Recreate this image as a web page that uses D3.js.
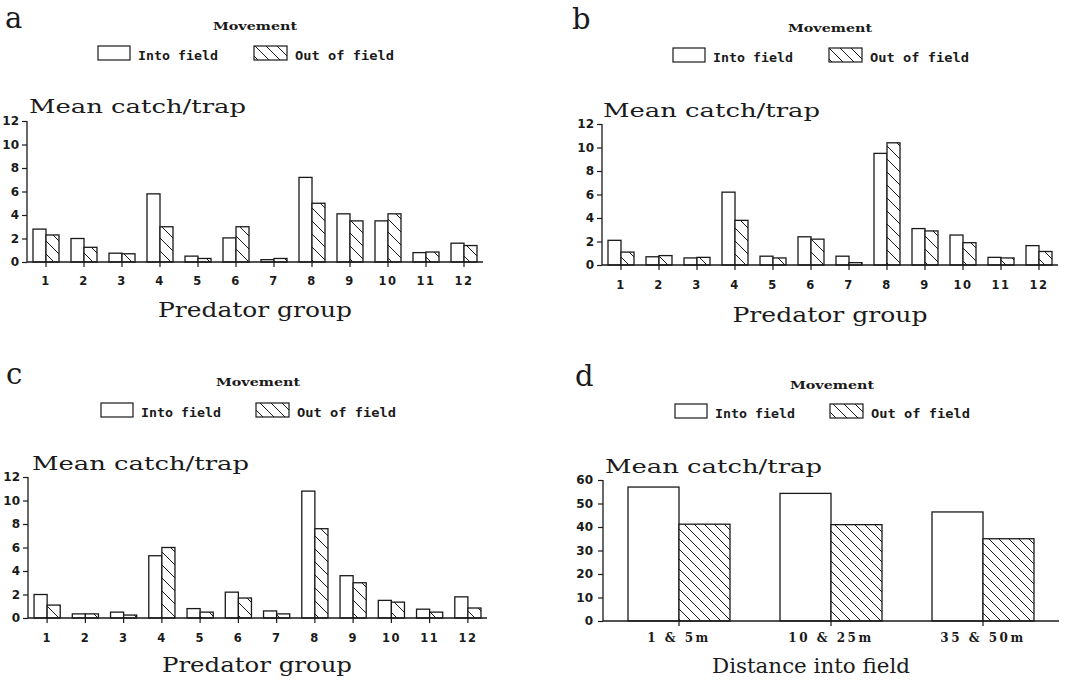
<!DOCTYPE html>
<html><head><meta charset="utf-8">
<script src="https://cdn.jsdelivr.net/npm/d3@7"></script>
<style>
body{margin:0;background:#fff;}
svg{display:block;}
</style></head>
<body><svg id="c" width="1068" height="682"></svg>
<script>
// ---- data ----
const groups = ["1","2","3","4","5","6","7","8","9","10","11","12"];
const intoA = [2.8,2.0,0.75,5.8,0.5,2.05,0.2,7.2,4.1,3.5,0.8,1.6];
const outA  = [2.3,1.25,0.7,3.0,0.3,3.0,0.3,5.0,3.5,4.1,0.85,1.4];
const intoB = [2.1,0.7,0.6,6.2,0.75,2.4,0.75,9.5,3.1,2.55,0.65,1.65];
const outB  = [1.1,0.8,0.65,3.8,0.6,2.2,0.2,10.4,2.9,1.9,0.6,1.15];
const intoC = [2.0,0.35,0.5,5.3,0.8,2.2,0.6,10.8,3.6,1.5,0.75,1.8];
const outC  = [1.1,0.35,0.25,6.0,0.5,1.7,0.35,7.6,3.0,1.35,0.5,0.85];
const distances = ["1 & 5m","10 & 25m","35 & 50m"];
const intoD = [57,54.3,46.4];
const outD  = [41.2,41,35];
const yTicksGroup = [0,2,4,6,8,10,12];
const yTicksDist = [0,10,20,30,40,50,60];
const seriesNames = ["Into field","Out of field"];

const svg = d3.select("#c");
const INK = "#1a1a1a";
const defs = svg.append("defs");
function hatch(id, s){
  const p = defs.append("pattern").attr("id",id).attr("patternUnits","userSpaceOnUse")
    .attr("width",s).attr("height",s);
  p.append("rect").attr("width",s).attr("height",s).attr("fill","#fff");
  p.append("path").attr("d",`M0,0L${s},${s}M-2,${s-2}L2,${s+2}M${s-2},-2L${s+2},2`)
    .attr("stroke",INK).attr("stroke-width",1);
}
hatch("h13",13); hatch("h10",10); hatch("h11",11);

function panel(cfg){
  const g = svg.append("g");
  // panel letter
  g.append("text").attr("x",cfg.letterX).attr("y",cfg.letterY).text(cfg.letter)
    .style("font-family","'DejaVu Serif',serif").style("font-size","29px").attr("fill",INK);
  // legend
  const L = cfg.legend;
  g.append("text").attr("x",L.mx).attr("y",L.my).attr("text-anchor","middle").text("Movement")
    .style("font-family","'DejaVu Serif',serif").style("font-weight","bold").style("font-size","11px")
    .attr("textLength",84).attr("lengthAdjust","spacingAndGlyphs").attr("fill",INK);
  g.append("rect").attr("x",L.x1).attr("y",L.by).attr("width",32).attr("height",14)
    .attr("fill","#fff").attr("stroke",INK).attr("stroke-width",1.2);
  g.append("text").attr("x",L.x1+40).attr("y",L.by+14).text(seriesNames[0])
    .style("font-family","'DejaVu Sans Mono',monospace").style("font-weight","bold").style("font-size","13px")
    .attr("textLength",80).attr("lengthAdjust","spacingAndGlyphs").attr("fill",INK);
  g.append("rect").attr("x",L.x2).attr("y",L.by).attr("width",33).attr("height",14)
    .attr("fill","url(#h11)").attr("stroke",INK).attr("stroke-width",1.2);
  g.append("text").attr("x",L.x2+41).attr("y",L.by+14).text(seriesNames[1])
    .style("font-family","'DejaVu Sans Mono',monospace").style("font-weight","bold").style("font-size","13px")
    .attr("textLength",99).attr("lengthAdjust","spacingAndGlyphs").attr("fill",INK);

  // scales
  const y = d3.scaleLinear().domain([0,cfg.ymax]).range([cfg.y0,cfg.yTop]);
  const x = d3.scaleBand().domain(cfg.cats).range([cfg.xr0,cfg.xr1])
    .paddingInner(cfg.pad).paddingOuter(cfg.pad/2);
  const bw = x.bandwidth()/2;

  // title
  g.append("text").attr("x",cfg.tx).attr("y",cfg.ty).text("Mean catch/trap")
    .style("font-family","'DejaVu Serif',serif").style("font-size","19px")
    .attr("textLength",217).attr("lengthAdjust","spacingAndGlyphs").attr("fill",INK);

  // bars
  const rows = cfg.cats.map((c,i)=>({c, a:cfg.into[i], b:cfg.out[i]}));
  g.selectAll(".bi").data(rows).join("rect")
    .attr("x",d=>x(d.c)).attr("width",bw)
    .attr("y",d=>y(d.a)).attr("height",d=>y(0)-y(d.a))
    .attr("fill","#fff").attr("stroke",INK).attr("stroke-width",1.3);
  g.selectAll(".bo").data(rows).join("rect")
    .attr("x",d=>x(d.c)+bw).attr("width",bw)
    .attr("y",d=>y(d.b)).attr("height",d=>y(0)-y(d.b))
    .attr("fill",`url(#${cfg.hatch})`).attr("stroke",INK).attr("stroke-width",1.3);

  // axes
  const ya = d3.axisLeft(y).tickValues(cfg.yticks).tickSize(5).tickPadding(cfg.ypad).tickFormat(d3.format("d"));
  const yg = g.append("g").attr("transform",`translate(${cfg.xr0},0)`).call(ya);
  yg.select(".domain").attr("stroke",INK).attr("stroke-width",1.3).attr("d",`M0,${cfg.y0}V${cfg.yTop}`);
  yg.selectAll(".tick line").attr("stroke",INK).attr("stroke-width",1.2);
  yg.selectAll(".tick text").attr("fill",INK)
    .style("font-family","'DejaVu Sans',sans-serif").style("font-weight","bold").style("font-size","12px");

  const xa = d3.axisBottom(x).tickSize(5).tickPadding(cfg.xpad);
  const xg = g.append("g").attr("transform",`translate(0,${cfg.y0})`).call(xa);
  xg.select(".domain").attr("stroke",INK).attr("stroke-width",1.3).attr("d",`M${cfg.xr0},0H${cfg.xr1}`);
  xg.selectAll(".tick line").attr("stroke",INK).attr("stroke-width",1.2);
  const xt = xg.selectAll(".tick text").attr("fill",INK).style("font-weight","bold");
  if(cfg.serifTicks){
    xt.style("font-family","'DejaVu Serif',serif").style("font-size","12px").style("letter-spacing","2.5px");
  } else {
    xt.style("font-family","'DejaVu Sans',sans-serif").style("font-size","11.5px").style("letter-spacing","1.5px");
  }

  // x title
  g.append("text").attr("x",cfg.xlx).attr("y",cfg.xly).attr("text-anchor","middle").text(cfg.xlabel)
    .style("font-family","'DejaVu Serif',serif").style("font-size","20px")
    .attr("textLength",cfg.xlw).attr("lengthAdjust","spacingAndGlyphs").attr("fill",INK);
}

panel({letter:"a",letterX:5,letterY:28,
  legend:{mx:255,my:30,x1:98,x2:254,by:46},
  cats:groups,into:intoA,out:outA,ymax:12,yticks:yTicksGroup,
  y0:262,yTop:121,xr0:27,xr1:483,pad:12/38,hatch:"h13",ypad:3,xpad:10,
  tx:29,ty:113,xlabel:"Predator group",xlx:255,xly:317,xlw:194});
panel({letter:"b",letterX:572,letterY:29,
  legend:{mx:830,my:32,x1:673,x2:829,by:48},
  cats:groups,into:intoB,out:outB,ymax:12,yticks:yTicksGroup,
  y0:265,yTop:124,xr0:602,xr1:1058,pad:12/38,hatch:"h13",ypad:3,xpad:11,
  tx:603,ty:117,xlabel:"Predator group",xlx:830,xly:322,xlw:195});
panel({letter:"c",letterX:6,letterY:384,
  legend:{mx:258,my:386,x1:101,x2:256,by:403},
  cats:groups,into:intoC,out:outC,ymax:12,yticks:yTicksGroup,
  y0:618,yTop:477,xr0:28,xr1:487,pad:12/38,hatch:"h13",ypad:3,xpad:11,
  tx:32,ty:470,xlabel:"Predator group",xlx:257,xly:672,xlw:190});
panel({letter:"d",letterX:575,letterY:386,
  legend:{mx:832,my:389,x1:675,x2:830,by:404},
  cats:distances,into:intoD,out:outD,ymax:60,yticks:yTicksDist,
  y0:621,yTop:480,xr0:603,xr1:1059,pad:50/152,hatch:"h10",ypad:5,xpad:7,serifTicks:true,
  tx:605,ty:473,xlabel:"Distance into field",xlx:811,xly:673,xlw:198});
</script></body></html>
